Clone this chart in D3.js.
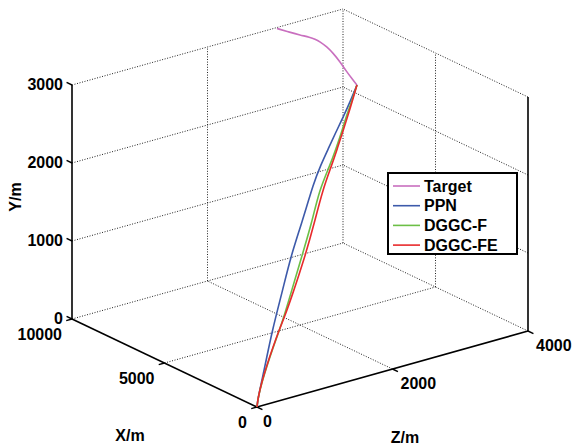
<!DOCTYPE html>
<html>
<head>
<meta charset="utf-8">
<script src="https://cdn.jsdelivr.net/npm/d3@7"></script>
<style>
  body { margin: 0; background: #fff; }
  text { font-family: "Liberation Sans", Arial, sans-serif; font-weight: bold; }
</style>
</head>
<body>
<div id="chart-container"></div>
<script>
// data (metres)
const series_names = ['Target', 'PPN', 'DGGC-F', 'DGGC-FE'];
const series_colors = ['#c96fbf', '#3d5aaa', '#6cbf46', '#e82a2c'];

const target_x = [9929, 9397, 9004, 8639, 8417, 8124, 7632, 7027, 6293, 5444, 4872, 4286];
const target_y = [3000, 3000, 3000, 3000, 3000, 3000, 3000, 3000, 3000, 3000, 3000, 3000];
const target_z = [3006, 3053, 3093, 3141, 3154, 3148, 3113, 3045, 2943, 2810, 2728, 2646];

const ppn_x = [0, 43, 356, 643, 1102, 1444, 1916, 2443, 2730, 3056, 3386, 3729, 3986, 4286];
const ppn_y = [0, 104, 449, 801, 1210, 1547, 1851, 2242, 2380, 2507, 2634, 2758, 2861, 3000];
const ppn_z = [0, 26, 220, 397, 680, 892, 1183, 1508, 1685, 1887, 2090, 2302, 2461, 2646];

const dggcf_x = [0, 43, 223, 441, 686, 943, 1179, 1393, 1916, 2344, 2670, 3129, 3386, 3630, 3845, 4050, 4286];
const dggcf_y = [0, 104, 271, 426, 576, 722, 873, 1031, 1423, 1738, 2079, 2275, 2420, 2570, 2728, 2844, 3000];
const dggcf_z = [0, 26, 138, 273, 423, 582, 728, 860, 1183, 1447, 1648, 1932, 2090, 2241, 2373, 2500, 2646];

const dggcfe_x = [0, 43, 214, 429, 673, 930, 1213, 1470, 2057, 2456, 2816, 3202, 3442, 3673, 3900, 4072, 4286];
const dggcfe_y = [0, 104, 273, 429, 579, 726, 864, 1011, 1385, 1709, 2041, 2256, 2406, 2559, 2713, 2838, 3000];
const dggcfe_z = [0, 26, 132, 265, 415, 574, 749, 908, 1270, 1516, 1738, 1977, 2125, 2268, 2408, 2514, 2646];

const x_ticks = [0, 5000, 10000];
const y_ticks = [0, 1000, 2000, 3000];
const z_ticks = [0, 2000, 4000];

const width = 572;
const height = 447;

const svg = d3.select('#chart-container')
    .append('svg')
    .attr('width', width)
    .attr('height', height);

svg.append('rect').attr('width', width).attr('height', height).attr('fill', '#fff');

// 3d view: each axis is a scale from its domain to 0..1, then mixed with screen vectors
const x_scale = d3.scaleLinear().domain([0, 10000]).range([0, 1]);
const y_scale = d3.scaleLinear().domain([0, 3000]).range([0, 1]);
const z_scale = d3.scaleLinear().domain([0, 4000]).range([0, 1]);

const origin = [257, 407];
const x_vec = [-185, -88];
const y_vec = [0, -234];
const z_vec = [271, -76];

const project = (x, y, z) => {
    const a = x_scale(x), b = y_scale(y), c = z_scale(z);
    return [origin[0] + a * x_vec[0] + b * y_vec[0] + c * z_vec[0],
            origin[1] + a * x_vec[1] + b * y_vec[1] + c * z_vec[1]];
};

const grid_g = svg.append('g').attr('id', 'grid');
const grid_line = (p, q) => {
    const a = project(...p), b = project(...q);
    grid_g.append('line')
        .attr('x1', a[0]).attr('y1', a[1]).attr('x2', b[0]).attr('y2', b[1])
        .attr('stroke', '#222')
        .attr('stroke-width', 1)
        .attr('stroke-dasharray', '1,1.6');
};

// floor (y = 0)
x_ticks.slice(1).forEach(x => grid_line([x, 0, 0], [x, 0, 4000]));
z_ticks.slice(1).forEach(z => grid_line([0, 0, z], [10000, 0, z]));
// back wall (x = 10000)
y_ticks.slice(1).forEach(y => grid_line([10000, y, 0], [10000, y, 4000]));
z_ticks.slice(1).forEach(z => grid_line([10000, 0, z], [10000, 3000, z]));
// side wall (z = 4000)
y_ticks.slice(1).forEach(y => grid_line([0, y, 4000], [10000, y, 4000]));
x_ticks.slice(1, 2).forEach(x => grid_line([x, 0, 4000], [x, 3000, 4000]));

// solid axis lines
const axis_g = svg.append('g').attr('id', 'axes');
const axis_line = (p, q) => {
    const a = project(...p), b = project(...q);
    axis_g.append('line')
        .attr('x1', a[0]).attr('y1', a[1]).attr('x2', b[0]).attr('y2', b[1])
        .attr('stroke', '#000')
        .attr('stroke-width', 1.6);
};
axis_line([0, 0, 0], [10000, 0, 0]);
axis_line([0, 0, 0], [0, 0, 4000]);
axis_line([10000, 0, 0], [10000, 3000, 0]);
axis_line([0, 0, 4000], [0, 3000, 4000]);

// ticks
const tick_len = 6;
const unit = v => { const n = Math.hypot(v[0], v[1]); return [v[0] / n, v[1] / n]; };
const tick = (p, dir) => {
    const a = project(...p), d = unit(dir);
    axis_g.append('line')
        .attr('x1', a[0]).attr('y1', a[1])
        .attr('x2', a[0] + d[0] * tick_len).attr('y2', a[1] + d[1] * tick_len)
        .attr('stroke', '#000').attr('stroke-width', 1.4);
};

const label_g = svg.append('g').attr('id', 'labels').attr('font-size', 16);

x_ticks.forEach(x => {
    tick([x, 0, 0], [-z_vec[0], -z_vec[1]]);
    const a = project(x, 0, 0);
    label_g.append('text').attr('x', a[0] - 10).attr('y', a[1] + 15)
        .attr('text-anchor', 'end').attr('dominant-baseline', 'central').text(x);
});
z_ticks.forEach(z => {
    tick([0, 0, z], [-x_vec[0], -x_vec[1]]);
    const a = project(0, 0, z);
    label_g.append('text').attr('x', a[0] + (z === 0 ? 6 : 8)).attr('y', a[1] + 14)
        .attr('text-anchor', 'start').attr('dominant-baseline', 'central').text(z);
});
y_ticks.forEach(y => {
    tick([10000, y, 0], x_vec);
    const a = project(10000, y, 0);
    label_g.append('text').attr('x', a[0] - 9).attr('y', a[1] - 1)
        .attr('text-anchor', 'end').attr('dominant-baseline', 'central').text(y);
});

// axis titles
label_g.append('text').attr('x', 130).attr('y', 435).attr('text-anchor', 'middle')
    .attr('dominant-baseline', 'central').text('X/m');
label_g.append('text').attr('x', 405).attr('y', 437).attr('text-anchor', 'middle')
    .attr('dominant-baseline', 'central').text('Z/m');
label_g.append('g').attr('transform', 'translate(15, 197)')
    .append('text').attr('transform', 'rotate(-90)').attr('text-anchor', 'middle')
    .attr('dominant-baseline', 'central').text('Y/m');

// trajectories
const all_series = [
    [target_x, target_y, target_z],
    [ppn_x, ppn_y, ppn_z],
    [dggcf_x, dggcf_y, dggcf_z],
    [dggcfe_x, dggcfe_y, dggcfe_z]
];

const line_gen = d3.line().curve(d3.curveBasis);

svg.append('g').attr('id', 'lines')
    .selectAll('path')
    .data(all_series)
    .enter()
    .append('path')
    .attr('d', s => line_gen(s[0].map((x, i) => project(x, s[1][i], s[2][i]))))
    .attr('fill', 'none')
    .attr('stroke', (s, i) => series_colors[i])
    .attr('stroke-width', 1.6);

// legend
const legend = svg.append('g').attr('id', 'legend');
legend.append('rect')
    .attr('x', 388).attr('y', 173).attr('width', 129).attr('height', 81)
    .attr('fill', '#fff').attr('stroke', '#000').attr('stroke-width', 2);

series_names.forEach((name, i) => {
    const cy = 186 + i * 19.7;
    legend.append('line').attr('x1', 393).attr('x2', 420).attr('y1', cy).attr('y2', cy)
        .attr('stroke', series_colors[i]).attr('stroke-width', 1.6);
    legend.append('text').attr('x', 424).attr('y', cy).attr('font-size', 16)
        .attr('dominant-baseline', 'central').text(name);
});
</script>
</body>
</html>
